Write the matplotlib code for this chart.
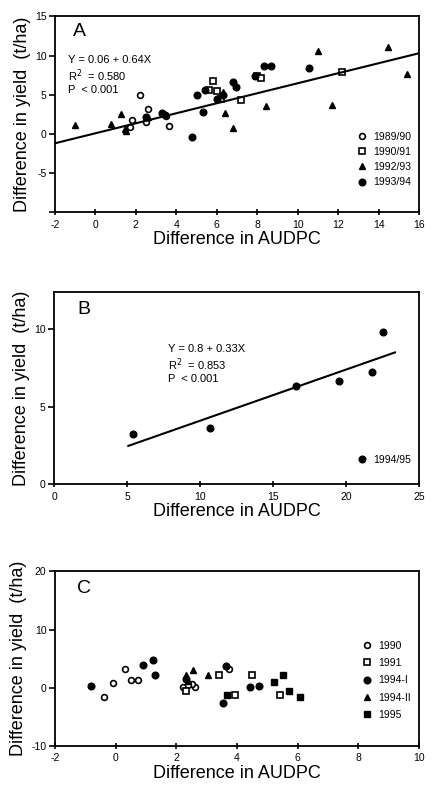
import numpy as np
import matplotlib.pyplot as plt

plt.rcParams['font.family'] = ['Liberation Sans', 'DejaVu Sans']
plt.rcParams['axes.unicode_minus'] = False

# panel A data
a_x_8990 = [2.2, 2.62, 1.79, 1.71, 2.5, 3.49, 3.64]
a_y_8990 = [4.96, 3.14, 1.7, 0.85, 1.49, 2.29, 0.93]
a_x_9091 = [5.83, 5.6, 6.0, 6.23, 7.18, 7.97, 8.19, 12.2]
a_y_9091 = [6.74, 5.6, 5.51, 4.45, 4.33, 7.38, 7.16, 7.93]
a_x_9293 = [-1.01, 0.78, 1.26, 1.51, 1.45, 2.58, 6.33, 6.41, 6.82, 8.42, 10.99, 11.7, 14.48, 15.39]
a_y_9293 = [1.1, 1.19, 2.54, 0.3, 0.6, 2.2, 5.38, 2.63, 0.72, 3.56, 10.56, 3.69, 11.1, 7.63]
a_x_9394 = [3.28, 3.45, 4.76, 5.01, 5.34, 5.4, 6.0, 6.29, 6.79, 6.95, 8.35, 8.67, 10.58, 2.5, 7.9]
a_y_9394 = [2.63, 2.4, -0.42, 5.0, 2.84, 5.6, 4.41, 4.96, 6.58, 5.94, 8.65, 8.65, 8.36, 2.2, 7.45]
a_fit = (0.06, 0.64)

# panel B data
b_x = [5.39, 10.71, 16.6, 19.5, 21.76, 22.53]
b_y = [3.26, 3.63, 6.34, 6.64, 7.23, 9.85]
b_fit = (0.8, 0.33)

# panel C data
c_x_1990 = [-0.37, -0.1, 0.31, 0.51, 0.73, 2.23, 2.62, 2.51, 2.4, 3.75]
c_y_1990 = [-1.66, 0.74, 3.26, 1.3, 1.3, 0.1, 0.1, 0.69, 0.4, 3.26]
c_x_1991 = [2.32, 3.42, 3.95, 4.51, 5.42]
c_y_1991 = [-0.58, 2.23, -1.27, 2.23, -1.2]
c_x_1994i = [-0.8, 0.91, 1.22, 1.31, 2.32, 3.55, 3.63, 4.43, 4.74]
c_y_1994i = [0.28, 3.94, 4.8, 2.23, 1.42, -2.69, 3.65, 0.17, 0.28]
c_x_1994ii = [2.32, 2.54, 3.03, 2.4]
c_y_1994ii = [2.23, 3.09, 2.23, 1.2]
c_x_1995 = [3.66, 5.21, 5.51, 5.72, 6.07]
c_y_1995 = [-1.27, 0.91, 2.23, -0.51, -1.54]

fig = plt.figure(figsize=(4.32, 7.85), dpi=100)
axA = fig.add_axes([0.127, 0.730, 0.843, 0.249])
axB = fig.add_axes([0.125, 0.383, 0.845, 0.245])
axC = fig.add_axes([0.127, 0.050, 0.843, 0.222])

ms = 4.2
open_c = dict(marker='o', mfc='white', mec='black', mew=1.2, ms=ms, ls='none')
open_s = dict(marker='s', mfc='white', mec='black', mew=1.2, ms=ms, ls='none')
fill_t = dict(marker='^', mfc='black', mec='black', ms=ms + 0.5, ls='none')
fill_c = dict(marker='o', mfc='black', mec='black', ms=ms + 0.6, ls='none')
fill_s = dict(marker='s', mfc='black', mec='black', ms=ms, ls='none')

tick_fs = 7.5
lab_fs = 13
ann_fs = 8


def style(ax):
    for s in ax.spines.values():
        s.set_linewidth(1.3)
    ax.tick_params(axis='x', direction='inout', length=5, width=1.2, labelsize=tick_fs, pad=3)
    ax.tick_params(axis='y', direction='out', length=4, width=1.2, labelsize=tick_fs, pad=2)
    ax.set_xlabel('Difference in AUDPC', fontsize=lab_fs, labelpad=1)
    ax.set_ylabel('Difference in yield  (t/ha)', fontsize=lab_fs, labelpad=3)


# panel A
axA.plot(a_x_8990, a_y_8990, **open_c, label='1989/90')
axA.plot(a_x_9091, a_y_9091, **open_s, label='1990/91')
axA.plot(a_x_9293, a_y_9293, **fill_t, label='1992/93')
axA.plot(a_x_9394, a_y_9394, **fill_c, label='1993/94')
xl = np.array([-2, 16])
axA.plot(xl, a_fit[0] + a_fit[1] * xl, color='black', lw=1.5)
axA.set_xlim(-2, 16)
axA.set_ylim(-10, 15)
axA.set_xticks(range(-2, 17, 2))
axA.set_yticks([-10, -5, 0, 5, 10, 15])
axA.set_yticklabels(['', '-5', '0', '5', '10', '15'])
axA.text(0.05, 0.965, 'A', transform=axA.transAxes, fontsize=14, va='top')
axA.text(0.035, 0.70, 'Y = 0.06 + 0.64X\nR$^2$  = 0.580\nP  < 0.001',
         transform=axA.transAxes, fontsize=ann_fs, va='center', linespacing=1.15)
axA.legend(loc='lower right', bbox_to_anchor=(0.99, 0.105), frameon=False, fontsize=7.5,
           handletextpad=0.1, labelspacing=0.5, borderaxespad=0)
style(axA)

# panel B
axB.plot(b_x, b_y, **fill_c, label='1994/95')
xl = np.array([5.09, 23.35])
axB.plot(xl, b_fit[0] + b_fit[1] * xl, color='black', lw=1.5)
axB.set_xlim(0, 25)
axB.set_ylim(0, 12.4)
axB.set_xticks(range(0, 26, 5))
axB.set_yticks([0, 5, 10])
axB.text(0.063, 0.955, 'B', transform=axB.transAxes, fontsize=14, va='top')
axB.text(0.312, 0.625, 'Y = 0.8 + 0.33X\nR$^2$  = 0.853\nP  < 0.001',
         transform=axB.transAxes, fontsize=ann_fs, va='center', linespacing=1.15)
axB.legend(loc='lower right', bbox_to_anchor=(0.99, 0.08), frameon=False, fontsize=7.5,
           handletextpad=0.1, borderaxespad=0)
style(axB)

# panel C
axC.plot(c_x_1990, c_y_1990, **open_c, label='1990')
axC.plot(c_x_1991, c_y_1991, **open_s, label='1991')
axC.plot(c_x_1994i, c_y_1994i, **fill_c, label='1994-I')
axC.plot(c_x_1994ii, c_y_1994ii, **fill_t, label='1994-II')
axC.plot(c_x_1995, c_y_1995, **fill_s, label='1995')
axC.set_xlim(-2, 10)
axC.set_ylim(-10, 20)
axC.set_xticks(range(-2, 11, 2))
axC.set_yticks([-10, 0, 10, 20])
axC.text(0.06, 0.95, 'C', transform=axC.transAxes, fontsize=14, va='top')
axC.legend(loc='lower right', bbox_to_anchor=(0.99, 0.125), frameon=False, fontsize=7.5,
           handletextpad=0.1, labelspacing=0.7, borderaxespad=0)
style(axC)

fig.savefig('out.png', dpi=100)
